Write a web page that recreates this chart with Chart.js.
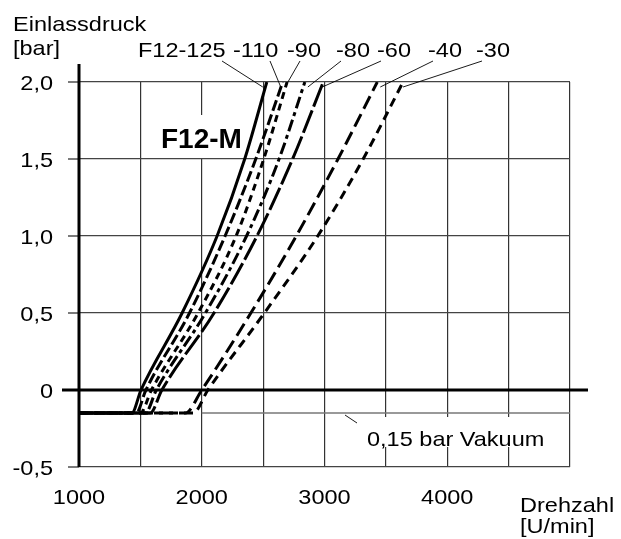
<!DOCTYPE html>
<html>
<head>
<meta charset="utf-8">
<script src="https://cdn.jsdelivr.net/npm/chart.js"></script>
<style>
  html, body { margin: 0; padding: 0; background: #fff; }
  canvas { display: block; }
</style>
</head>
<body>
<canvas id="chart" width="621" height="539"></canvas>
<script>
// pressure levels (bar) shared by every curve
const pressure = [-0.15, -0.15, 0, 0.5, 1.0, 1.5, 2.0];
// rpm at each pressure level, one array per pump
const rpmF125 = [1000, 1430, 1505, 1840, 2125, 2350, 2530];
const rpm110  = [1000, 1465, 1545, 1900, 2190, 2440, 2660];
const rpm90   = [1000, 1500, 1590, 1970, 2280, 2505, 2695];
const rpm80   = [1000, 1540, 1630, 2030, 2365, 2630, 2840];
const rpm60   = [1000, 1580, 1675, 2100, 2450, 2740, 2990];
const rpm40   = [1000, 1865, 2000, 2400, 2770, 3110, 3430];
const rpm30   = [1000, 1930, 2050, 2510, 2945, 3315, 3640];

const seriesNames = ['F12-125', '-110', '-90', '-80', '-60', '-40', '-30'];
const seriesRpm = [rpmF125, rpm110, rpm90, rpm80, rpm60, rpm40, rpm30];

const vacuumRpm = [2000, 5000];
const vacuumBar = [-0.15, -0.15];

const xTicks = [1000, 2000, 3000, 4000];
const xTickLabels = ['1000', '2000', '3000', '4000'];
const yTicks = [2.0, 1.5, 1.0, 0.5, 0, -0.5];
const yTickLabels = ['2,0', '1,5', '1,0', '0,5', '0', '-0,5'];

const dashes = [[], [11, 4], [7, 5], [12, 4, 4, 4], [24, 4], [14, 6], [9, 6]];
// label placement above the plot and leader tweaks
const labelX = [138, 233, 287, 336, 377, 428, 476];
const leaderFromX = [222, 270, 300, 341, 381, 433, 482];
const leaderDx = [-4, -2, -2, 3, -1, 3, 0];

const datasets = seriesNames.map((name, i) => ({
    label: name,
    data: seriesRpm[i].map((r, j) => ({ x: r, y: pressure[j] })),
    borderColor: '#000',
    borderWidth: 3,
    borderDash: dashes[i],
    pointRadius: 0,
    fill: false,
    cubicInterpolationMode: 'monotone'
}));
datasets.unshift({
    label: 'Vakuum',
    data: vacuumRpm.map((r, j) => ({ x: r, y: vacuumBar[j] })),
    borderColor: '#777',
    borderWidth: 1.5,
    pointRadius: 0,
    fill: false
});

const FONT = '"Liberation Sans", Arial, sans-serif';

function text(ctx, s, x, y, align, font, sx) {
    sx = sx || 1.12;
    ctx.save();
    ctx.font = font || ('21px ' + FONT);
    ctx.fillStyle = '#000';
    ctx.textBaseline = 'alphabetic';
    const w = ctx.measureText(s).width * sx;
    let left = x;
    if (align === 'right') left = x - w;
    if (align === 'center') left = x - w / 2;
    ctx.translate(left, y);
    ctx.scale(sx, 1);
    ctx.fillText(s, 0, 0);
    ctx.restore();
}

function line(ctx, x1, y1, x2, y2, w, c) {
    ctx.save();
    ctx.strokeStyle = c || '#000';
    ctx.lineWidth = w;
    ctx.beginPath();
    ctx.moveTo(x1, y1);
    ctx.lineTo(x2, y2);
    ctx.stroke();
    ctx.restore();
}

const decor = {
    id: 'decor',
    beforeDatasetsDraw(chart) {
        const ctx = chart.ctx;
        const ys = chart.scales.y;
        const a = chart.chartArea;
        // white boxes behind the two labels
        ctx.save();
        ctx.fillStyle = '#fff';
        ctx.fillRect(158, 115, 88, 43);
        ctx.fillRect(360, 417, 192, 30);
        ctx.restore();
        // tick stubs left of the y axis
        yTicks.forEach(v => {
            const y = ys.getPixelForValue(v);
            line(ctx, a.left - 11, y, a.left, y, 1.3, '#333');
        });
        // zero line and y axis
        const y0 = ys.getPixelForValue(0);
        line(ctx, a.left - 17, y0, a.right + 18, y0, 3);
        line(ctx, a.left, a.top - 18, a.left, a.bottom, 3);
    },
    afterDatasetsDraw(chart) {
        const ctx = chart.ctx;
        const xs = chart.scales.x, ys = chart.scales.y;
        const a = chart.chartArea;

        yTicks.forEach((v, i) => {
            text(ctx, yTickLabels[i], a.left - 26, ys.getPixelForValue(v) + 7.5, 'right');
        });
        xTicks.forEach((v, i) => {
            text(ctx, xTickLabels[i], xs.getPixelForValue(v), 504, 'center');
        });

        text(ctx, 'Einlassdruck', 13, 31, 'left');
        text(ctx, '[bar]', 13, 55, 'left');
        text(ctx, 'Drehzahl', 520, 512, 'left');
        text(ctx, '[U/min]', 520, 533, 'left');

        seriesNames.forEach((name, i) => {
            text(ctx, name, labelX[i], 57, 'left');
            const r = seriesRpm[i];
            const tx = xs.getPixelForValue(r[r.length - 1]) + leaderDx[i];
            const ty = ys.getPixelForValue(pressure[pressure.length - 1]) + 5;
            line(ctx, leaderFromX[i], 61, tx, ty, 0.9);
        });

        text(ctx, 'F12-M', 161, 148, 'left', 'bold 28px ' + FONT, 1.0);
        text(ctx, '0,15 bar Vakuum', 367, 446, 'left');
        line(ctx, 345, 415, 357, 423, 0.9);
    }
};

new Chart(document.getElementById('chart'), {
    type: 'line',
    data: { datasets: datasets },
    options: {
        responsive: false,
        animation: false,
        layout: { padding: { left: 79, right: 51, top: 82, bottom: 72 } },
        plugins: { legend: { display: false }, tooltip: { enabled: false } },
        scales: {
            x: {
                type: 'linear', min: 1000, max: 5000,
                ticks: { display: false, stepSize: 500 },
                grid: { color: '#333', lineWidth: 1.2, drawTicks: false },
                border: { display: false }
            },
            y: {
                type: 'linear', min: -0.5, max: 2.0,
                ticks: { display: false, stepSize: 0.5 },
                grid: { color: '#444', lineWidth: 1.2, drawTicks: false },
                border: { display: false }
            }
        }
    },
    plugins: [decor]
});
</script>
</body>
</html>
